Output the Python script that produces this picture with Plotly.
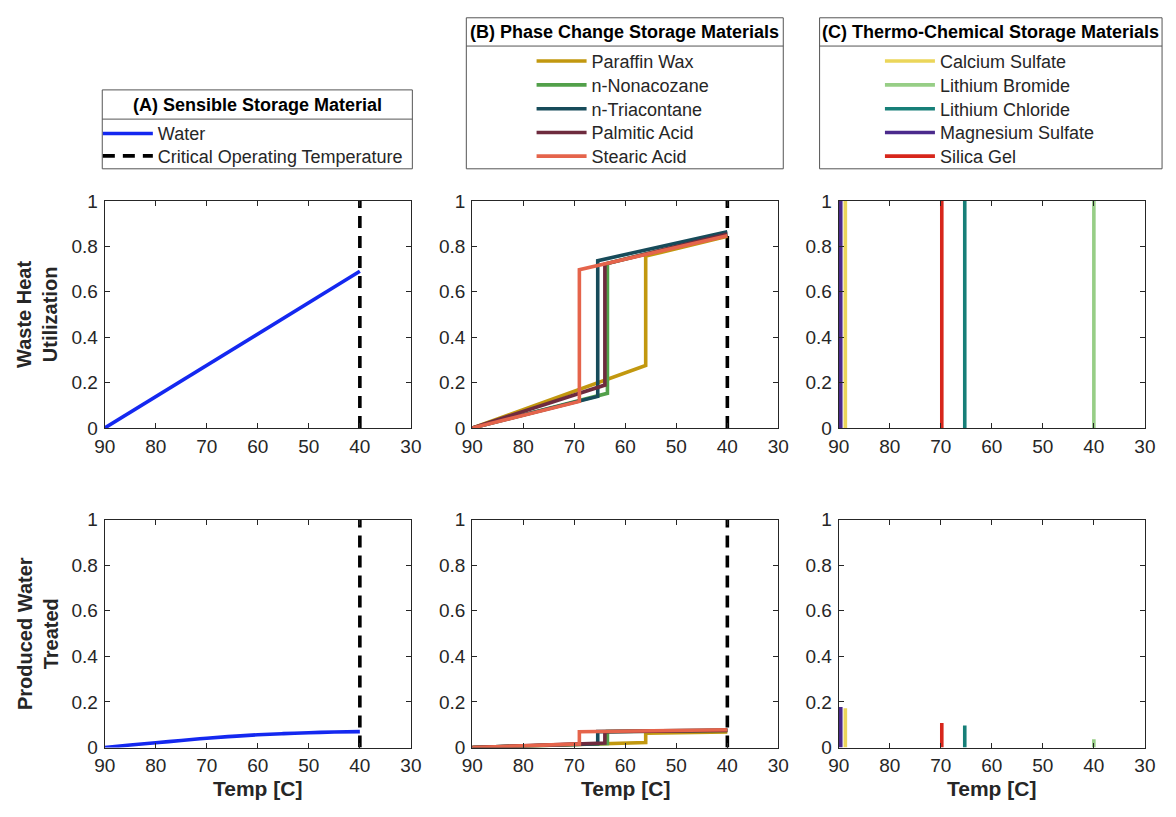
import plotly.graph_objects as go
from plotly.subplots import make_subplots

W, H = 1176, 817

# ---- data -------------------------------------------------------------
# (A) sensible storage: water
water_temp_util = [90, 40]
water_util = [0.0, 0.69]
water_temp_treat = [90, 85, 80, 75, 70, 65, 60, 55, 50, 45, 40]
water_treat = [0.0, 0.011, 0.021, 0.031, 0.041, 0.049, 0.056, 0.061, 0.065, 0.068, 0.070]
critical_temp = 40

# (B) phase change materials: melt temperature, value just before / after melting, value at 40 C
pcm_names = ["Paraffin Wax", "n-Nonacozane", "n-Triacontane", "Palmitic Acid", "Stearic Acid"]
pcm_colors = ["#C2980F", "#52A04A", "#174B5A", "#6E2B3E", "#E5644B"]
pcm_melt = [56.0, 63.5, 65.4, 64.0, 69.0]
pcm_util_before = [0.275, 0.153, 0.139, 0.189, 0.117]
pcm_util_after = [0.757, 0.725, 0.737, 0.722, 0.697]
pcm_util_end = [0.844, 0.855, 0.864, 0.855, 0.847]
pcm_treat_before = [0.022, 0.018, 0.017, 0.020, 0.016]
pcm_treat_after = [0.063, 0.070, 0.070, 0.069, 0.069]
pcm_treat_end = [0.068, 0.075, 0.077, 0.075, 0.078]

# (C) thermo-chemical materials: reaction temperature and outcomes
tcm_names = ["Calcium Sulfate", "Lithium Bromide", "Lithium Chloride", "Magnesium Sulfate", "Silica Gel"]
tcm_colors = ["#EBD65A", "#97CE86", "#177F78", "#4B2A8C", "#D7261B"]
tcm_temp = [88.7, 40.0, 65.3, 89.6, 69.8]
tcm_util = [1.0, 1.0, 1.0, 1.0, 1.0]
tcm_treat = [0.172, 0.036, 0.097, 0.178, 0.108]

x_ticks = [90, 80, 70, 60, 50, 40, 30]
y_ticks = [0, 0.2, 0.4, 0.6, 0.8, 1]

# ---- layout geometry (pixels) -----------------------------------------
col_px = [(95.5, 407.5), (470.0, 782.0), (843.5, 1155.5)]
row_px = [(196.0, 429.0), (523.0, 757.0)]

FONT = "Liberation Sans, Arial, sans-serif"
INK = "#262626"
LW = 3.6

fig = make_subplots(rows=2, cols=3)


def px_x(v):
    return v / W


def px_y(v):
    return 1 - v / H


def add(trace, r, c):
    fig.add_trace(trace, row=r, col=c)


# one legend slot per entry so every row sits at its own height
legend_slots = {}


def slot(x, y):
    name = "legend" if not legend_slots else "legend%d" % (len(legend_slots) + 1)
    legend_slots[name] = (x, y)
    return name


# (A) water
add(go.Scatter(x=water_temp_util, y=water_util, mode="lines", name="Water",
               line=dict(color="#1428F0", width=LW), legend=slot(88.5, 127)), 1, 1)
add(go.Scatter(x=water_temp_treat, y=water_treat, mode="lines", showlegend=False,
               line=dict(color="#1428F0", width=LW, shape="spline")), 2, 1)

# critical temperature marker in columns A and B
crit_legend = slot(88.5, 150)
for r in (1, 2):
    for c in (1, 2):
        add(go.Scatter(x=[critical_temp, critical_temp], y=[0, 1], mode="lines",
                       name="Critical Operating Temperature",
                       showlegend=(r == 1 and c == 1), legend=crit_legend,
                       line=dict(color="black", width=LW, dash="12px,8px")), r, c)

entry_rows = [52.7, 77.2, 101.7, 126.0, 150.3]

# (B) phase change materials
for i, name in enumerate(pcm_names):
    t = pcm_melt[i]
    add(go.Scatter(x=[90, t, t, critical_temp],
                   y=[0, pcm_util_before[i], pcm_util_after[i], pcm_util_end[i]],
                   mode="lines", name=name, legend=slot(530.5, entry_rows[i]),
                   line=dict(color=pcm_colors[i], width=LW)), 1, 2)
    add(go.Scatter(x=[90, t, t, critical_temp],
                   y=[0, pcm_treat_before[i], pcm_treat_after[i], pcm_treat_end[i]],
                   mode="lines", showlegend=False,
                   line=dict(color=pcm_colors[i], width=LW)), 2, 2)

# (C) thermo-chemical materials
for i, name in enumerate(tcm_names):
    t = tcm_temp[i]
    add(go.Scatter(x=[t, t], y=[0, tcm_util[i]], mode="lines", name=name,
                   legend=slot(885.5, entry_rows[i]),
                   line=dict(color=tcm_colors[i], width=LW)), 1, 3)
    add(go.Scatter(x=[t, t], y=[0, tcm_treat[i]], mode="lines", showlegend=False,
                   line=dict(color=tcm_colors[i], width=LW)), 2, 3)

# axes
for r in (1, 2):
    for c in (1, 2, 3):
        x0, x1 = col_px[c - 1]
        y0, y1 = row_px[r - 1]
        fig.update_xaxes(row=r, col=c, domain=[px_x(x0), px_x(x1)], range=[90, 30],
                         tickvals=x_ticks, ticks="inside", ticklen=5, tickcolor=INK,
                         showline=True, linecolor=INK, linewidth=1, mirror="ticks",
                         showgrid=False, zeroline=False, ticklabelstandoff=1,
                         tickfont=dict(family=FONT, size=19, color=INK))
        fig.update_yaxes(row=r, col=c, domain=[px_y(y1), px_y(y0)], range=[0, 1],
                         tickvals=y_ticks, ticks="inside", ticklen=5, tickcolor=INK,
                         showline=True, linecolor=INK, linewidth=1, mirror="ticks",
                         showgrid=False, zeroline=False, ticklabelstandoff=2,
                         tickfont=dict(family=FONT, size=19, color=INK))

annotations = []
# axis titles
for c in (1, 2, 3):
    x0, x1 = col_px[c - 1]
    annotations.append(dict(text="<b>Temp [C]</b>", x=px_x((x0 + x1) / 2), y=px_y(799),
                            xref="paper", yref="paper", showarrow=False,
                            xanchor="center", yanchor="middle",
                            font=dict(family=FONT, size=21, color=INK)))
for (y0, y1), txt in zip(row_px, ["Waste Heat<br>Utilization", "Produced Water<br>Treated"]):
    annotations.append(dict(text="<b>" + txt + "</b>", x=px_x(27), y=px_y((y0 + y1) / 2),
                            xref="paper", yref="paper", showarrow=False, textangle=-90,
                            xanchor="center", yanchor="middle",
                            font=dict(family=FONT, size=20, color=INK)))

# legend frames with title rows
legend_boxes = [
    ("(A) Sensible Storage Material", (93, 409), (82, 163), 112),
    ("(B) Phase Change Storage Materials", (464, 787), (8, 163), 37),
    ("(C) Thermo-Chemical Storage Materials", (824, 1173), (8, 163), 37),
]
shapes = []
for title, (bx0, bx1), (by0, by1), sep in legend_boxes:
    shapes.append(dict(type="rect", xref="paper", yref="paper",
                       x0=px_x(bx0), x1=px_x(bx1), y0=px_y(by1), y1=px_y(by0),
                       line=dict(color="#555555", width=1), fillcolor="white", layer="below"))
    shapes.append(dict(type="line", xref="paper", yref="paper",
                       x0=px_x(bx0), x1=px_x(bx1), y0=px_y(sep), y1=px_y(sep),
                       line=dict(color="#555555", width=1)))
    annotations.append(dict(text="<b>" + title + "</b>", x=px_x((bx0 + bx1) / 2),
                            y=px_y((by0 + sep) / 2), xref="paper", yref="paper",
                            showarrow=False, xanchor="center", yanchor="middle",
                            font=dict(family=FONT, size=18, color="black")))

legend_layout = {}
for name, (lx, ly) in legend_slots.items():
    legend_layout[name] = dict(x=px_x(lx), y=px_y(ly), xanchor="left", yanchor="middle",
                               bgcolor="rgba(0,0,0,0)", borderwidth=0, itemwidth=50,
                               font=dict(family=FONT, size=18, color=INK))

fig.update_layout(
    width=W, height=H,
    margin=dict(l=0, r=0, t=0, b=0),
    paper_bgcolor="white", plot_bgcolor="white",
    shapes=shapes, annotations=annotations,
    **legend_layout,
)

# page body without default margin so the figure fills the window exactly
fig.write_html("out.html", post_script="document.body.style.margin='0';")
